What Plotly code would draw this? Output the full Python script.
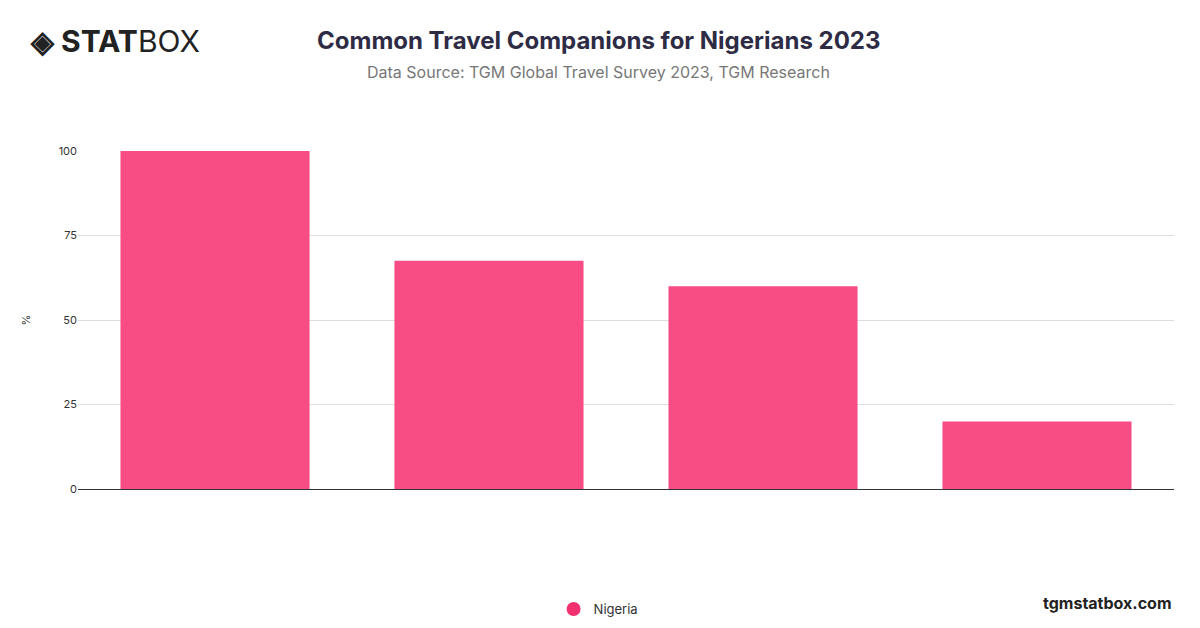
import plotly.graph_objects as go

categories = ["Family", "Friends", "Partner", "Alone"]
values = [100, 67.5, 60, 20]
y_ticks = [0, 25, 50, 75, 100]

fig = go.Figure()
fig.add_trace(
    go.Bar(
        x=categories,
        y=values,
        name="Nigeria",
        marker=dict(color="#F84C85", line=dict(width=0)),
        showlegend=False,
    )
)
# legend entry with round marker
fig.add_trace(
    go.Scatter(
        x=[None],
        y=[None],
        mode="markers",
        name="Nigeria",
        marker=dict(color="#F2306F", size=14, symbol="circle"),
    )
)

fig.update_layout(
    width=1200,
    height=628,
    paper_bgcolor="white",
    plot_bgcolor="white",
    margin=dict(l=70, r=34, t=143, b=121),
    bargap=0.31,
    font=dict(family="Inter, Roboto, sans-serif", color="#333"),
    legend=dict(
        orientation="h",
        x=0.475,
        xanchor="center",
        y=-0.355,
        yanchor="middle",
        font=dict(size=13, color="#333"),
    ),
    xaxis=dict(showticklabels=False, showline=True, linecolor="#333", linewidth=1, ticks=""),
    yaxis=dict(
        range=[0, 100],
        tickvals=y_ticks,
        gridcolor="#DDDDDD",
        zeroline=False,
        tickfont=dict(size=11, color="#333"),
        title=dict(text="%", font=dict(size=11), standoff=25),
    ),
)

fig.add_annotation(
    text="<b>Common Travel Companions for Nigerians 2023</b>",
    xref="paper", yref="paper", x=0.475, y=1.326,
    xanchor="center", yanchor="middle", showarrow=False,
    font=dict(size=24, color="#2E2B45"),
)
fig.add_annotation(
    text="Data Source: TGM Global Travel Survey 2023, TGM Research",
    xref="paper", yref="paper", x=0.475, y=1.235,
    xanchor="center", yanchor="middle", showarrow=False,
    font=dict(size=16, color="#777"),
)
fig.add_annotation(
    text="<b>◈ STAT</b>BOX",
    xref="paper", yref="paper", x=-0.046, y=1.326,
    xanchor="left", yanchor="middle", showarrow=False,
    font=dict(size=30, color="#222"),
)
fig.add_annotation(
    text="<b>tgmstatbox.com</b>",
    xref="paper", yref="paper", x=1.0, y=-0.338,
    xanchor="right", yanchor="middle", showarrow=False,
    font=dict(size=16, color="#222"),
)

fig.write_html("out.html")
